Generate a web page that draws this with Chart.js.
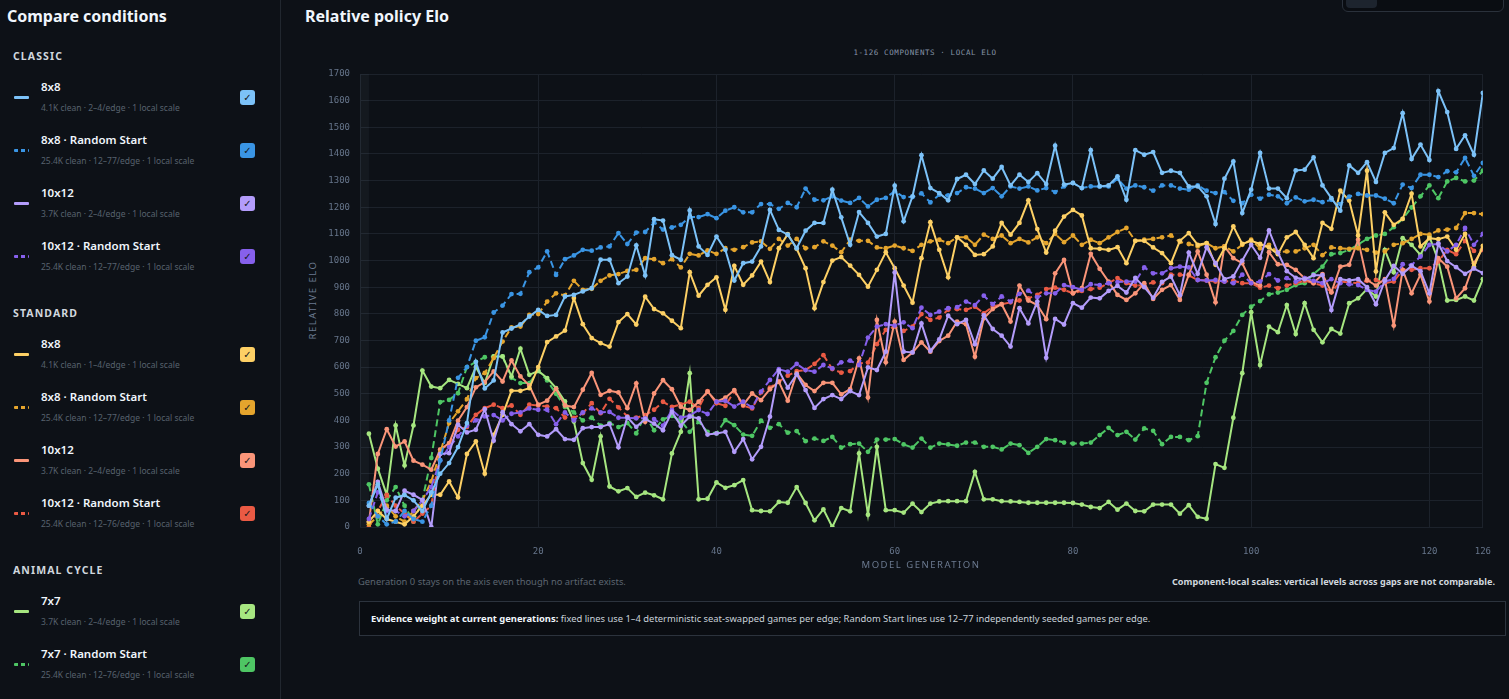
<!DOCTYPE html>
<html>
<head>
<meta charset="utf-8">
<title>Relative policy Elo</title>
<script src="https://cdn.jsdelivr.net/npm/chart.js@4.4.1/dist/chart.umd.min.js"></script>
<style>
  html, body { margin: 0; padding: 0; }
  body { width: 1509px; height: 699px; overflow: hidden; position: relative; background: #0d1117; color: #e6edf3; font-family: "Noto Sans", sans-serif; }
  .abs { position: absolute; white-space: nowrap; }
  #side { position: absolute; left: 0; top: 0; width: 280px; height: 699px; border-right: 1px solid #21272f; }
  .h2 { font-size: 16px; font-weight: 700; color: #f0f6fc; line-height: 20px; }
  .grp { font-size: 10.5px; font-weight: 700; letter-spacing: 1.1px; color: #d0d7de; line-height: 14px; }
  .name { font-size: 11.5px; font-weight: 600; color: #f0f6fc; line-height: 14px; }
  .note { font-size: 8.5px; color: #58626e; line-height: 12px; }
  .swatch { width: 15px; height: 3px; border-radius: 1px; }
  .check { width: 15px; height: 15px; border-radius: 3px; font: 10px "DejaVu Sans"; color: #15181d; text-align: center; line-height: 15px; }
  #wrap { position: absolute; left: 300px; top: 40px; width: 1210px; height: 529px; }
  .axis { font-size: 9.5px; letter-spacing: 1.5px; color: #6b7a90; line-height: 12px; }
  .mono { font-family: "DejaVu Sans Mono", monospace; font-size: 7.5px; letter-spacing: 0.6px; color: #8593a6; line-height: 10px; }
  .small { font-size: 9.4px; line-height: 12px; }
  #evidence { position: absolute; left: 359px; top: 601px; width: 1147px; height: 35px; border: 1px solid #2c333d; background: #0a0d12; box-sizing: border-box; }
  #toggle { position: absolute; left: 1342px; top: -6px; width: 160px; height: 16px; border: 1px solid #2a313b; border-radius: 6px; background: #0a0d12; }
  #toggle span { position: absolute; left: 3px; top: 2px; width: 31px; height: 11px; border-radius: 4px; background: #1d242e; }
</style>
</head>
<body>
<div id="side"></div>
<div class="abs h2" style="left:305px; top:6px;">Relative policy Elo</div>
<div id="toggle"><span></span></div>
<div class="abs mono" style="left:925px; top:48px; transform:translateX(-50%);">1-126 COMPONENTS · LOCAL ELO</div>
<div class="abs axis" style="left:313px; top:300px; transform:translate(-50%,-50%) rotate(-90deg);">RELATIVE ELO</div>
<div id="wrap"><canvas id="eloChart"></canvas></div>
<div class="abs axis" style="left:921px; top:559px; transform:translateX(-50%);">MODEL GENERATION</div>
<div class="abs small" style="left:358px; top:576px; color:#5c6570;">Generation 0 stays on the axis even though no artifact exists.</div>
<div class="abs small" style="right:14px; top:576px; color:#d0d7de; font-weight:700; font-size:9.1px;">Component-local scales: vertical levels across gaps are not comparable.</div>
<div id="evidence">
  <div class="abs small" style="left:11px; top:11px; color:#c9d1d9;"><b style="color:#f0f6fc;">Evidence weight at current generations:</b> fixed lines use 1–4 deterministic seat-swapped games per edge; Random Start lines use 12–77 independently seeded games per edge.</div>
</div>

<script>
// Conditions (sidebar + datasets)
const groupNames = ["CLASSIC", "STANDARD", "ANIMAL CYCLE"];
const conditionNames = ["8x8", "8x8 · Random Start", "10x12", "10x12 · Random Start",
  "8x8", "8x8 · Random Start", "10x12", "10x12 · Random Start",
  "7x7", "7x7 · Random Start"];
const conditionNotes = [
  "4.1K clean · 2–4/edge · 1 local scale", "25.4K clean · 12–77/edge · 1 local scale",
  "3.7K clean · 2–4/edge · 1 local scale", "25.4K clean · 12–77/edge · 1 local scale",
  "4.1K clean · 1–4/edge · 1 local scale", "25.4K clean · 12–77/edge · 1 local scale",
  "3.7K clean · 2–4/edge · 1 local scale", "25.4K clean · 12–76/edge · 1 local scale",
  "3.7K clean · 2–4/edge · 1 local scale", "25.4K clean · 12–76/edge · 1 local scale"];
const groupSizes = [4, 4, 2];

const xTicks = [0, 20, 40, 60, 80, 100, 120, 126];

// Relative Elo by generation 1..126
const classic8 = [80,160,30,110,120,100,60,130,200,240,
  300,390,620,520,550,730,745,760,790,815,
  792,796,865,871,884,896,1003,1003,915,940,
  1057,944,1155,1150,1020,1003,1188,1053,1021,1090,
  1040,925,990,996,1053,1190,1115,1097,1046,1112,
  1141,1141,1266,1162,1059,1182,1141,1090,1100,1281,
  1147,1241,1395,1272,1253,1226,1306,1322,1287,1338,
  1307,1351,1282,1322,1295,1328,1287,1431,1285,1291,
  1272,1414,1278,1282,1316,1228,1414,1397,1407,1329,
  1337,1329,1278,1278,1241,1137,1307,1372,1178,1266,
  1404,1270,1270,1234,1338,1341,1387,1282,1234,1187,
  1357,1329,1369,1295,1404,1422,1553,1381,1435,1377,
  1636,1557,1419,1470,1397,1629];
const classic8rs = [90,40,10,20,60,30,20,80,250,400,
  560,600,699,712,805,831,874,875,956,974,
  1034,946,1005,1019,1040,1037,1049,1053,1103,1062,
  1105,1107,1143,1116,1124,1134,1163,1163,1174,1159,
  1187,1200,1181,1181,1212,1212,1194,1216,1200,1270,
  1228,1226,1241,1225,1216,1235,1203,1228,1235,1260,
  1238,1238,1252,1218,1247,1244,1253,1275,1270,1253,
  1272,1241,1278,1270,1278,1263,1272,1257,1278,1291,
  1272,1278,1278,1278,1307,1270,1282,1275,1262,1282,
  1282,1270,1266,1282,1262,1253,1257,1224,1215,1247,
  1232,1247,1241,1215,1237,1222,1228,1219,1228,1212,
  1240,1250,1244,1244,1232,1215,1285,1272,1322,1322,
  1313,1335,1331,1385,1318,1366];
const classic10 = [80,169,65,60,136,121,102,0,274,277,
  384,355,365,442,324,431,386,359,386,346,
  340,367,330,327,371,375,375,386,299,412,
  376,405,388,363,432,380,414,408,347,351,
  357,282,330,254,301,414,587,523,573,514,
  447,480,495,480,510,495,599,589,658,955,
  658,655,764,661,704,793,761,777,686,795,
  743,718,677,821,764,846,635,781,760,840,
  823,861,858,886,905,880,935,900,860,920,
  940,870,1030,950,1050,990,930,940,1000,1059,
  1010,1113,1030,960,935,930,945,945,814,930,
  925,930,900,836,925,980,950,980,960,877,
  1064,998,975,950,970,953];
const classic10rs = [30,130,60,60,40,60,100,150,250,300,
  340,380,400,415,420,400,425,430,445,440,
  440,386,430,400,430,445,430,432,410,410,
  408,408,405,380,439,410,418,439,424,470,
  473,452,470,449,508,552,592,583,612,589,
  583,608,595,618,624,608,711,752,761,756,
  768,746,823,796,808,821,825,846,833,868,
  836,865,846,875,887,862,877,877,908,900,
  890,911,908,915,919,921,921,974,952,952,
  971,977,974,927,925,927,921,915,947,915,
  921,949,925,934,921,934,924,915,930,915,
  911,908,890,883,921,931,986,983,1015,1059,
  1062,1034,1059,1122,1059,1100];
const standard8 = [20,60,30,20,10,40,80,121,121,171,
  111,274,321,200,346,421,511,511,521,600,
  694,715,737,859,761,709,690,677,769,799,
  760,864,818,802,774,746,956,868,909,937,
  815,980,909,944,996,919,1046,1099,1044,971,
  821,919,1000,1013,981,946,902,965,1031,971,
  906,842,1009,1144,1040,937,1087,1059,1021,1024,
  1053,1141,1097,1141,1226,1118,1030,1112,1165,1190,
  1169,1046,1044,1040,1050,990,1074,1074,1049,1028,
  990,1074,1103,1059,1065,984,1046,1128,1062,1074,
  1062,1049,1024,1087,1107,1059,1009,1141,1119,1262,
  1225,1094,1337,959,1181,1134,1156,1251,1053,1084,
  1080,1090,1040,1100,977,1055];
const standard8rs = [10,40,80,40,20,60,100,171,280,390,
  434,480,559,578,634,696,749,752,796,799,
  846,877,869,924,890,894,924,944,949,961,
  965,1009,1005,990,1005,974,1025,1019,1038,1025,
  1046,1040,1050,1068,1072,1044,1081,1056,1081,1046,
  1050,1072,1056,1031,1078,1074,1074,1049,1046,1056,
  1046,1036,1059,1072,1078,1065,1087,1087,1059,1097,
  1081,1094,1065,1081,1068,1087,1065,1100,1069,1094,
  1059,1078,1065,1087,1107,1122,1074,1078,1081,1087,
  1094,1070,1062,1053,1065,1046,1053,1034,1059,1078,
  1046,1059,1031,1034,1034,1046,1059,1020,1049,1046,
  1044,1046,1040,1030,1034,1059,1065,1081,1100,1097,
  1113,1116,1122,1178,1178,1174];
const standard10 = [19,274,367,302,321,249,234,215,290,315,
  399,450,524,544,584,546,625,565,531,459,
  474,518,456,450,515,578,496,511,505,446,
  539,395,501,551,517,451,439,470,508,470,
  485,514,458,501,476,517,545,474,577,533,
  510,541,541,498,517,633,486,777,618,771,
  627,655,693,658,698,718,771,761,639,783,
  818,836,771,906,850,833,780,952,1002,877,
  896,1025,969,921,871,852,877,915,856,890,
  908,852,947,1034,947,843,1053,1009,990,921,
  906,1031,986,984,965,934,915,949,881,977,
  984,1078,927,906,930,756,965,877,947,846,
  1009,977,858,896,990,1046];
const standard10rs = [0,60,120,80,50,20,50,80,290,311,
  365,375,421,446,459,446,456,421,459,456,
  452,446,411,409,427,465,427,481,449,415,
  410,420,440,470,451,460,470,447,510,464,
  455,510,455,445,505,523,545,568,585,589,
  612,645,593,579,585,614,617,686,740,752,
  736,752,799,777,786,815,818,815,827,802,
  827,836,843,850,858,871,893,898,890,877,
  886,893,898,915,934,915,906,908,918,915,
  947,947,944,927,925,921,921,924,915,915,
  898,906,896,906,915,924,915,906,881,921,
  918,915,924,927,915,921,965,965,971,971,
  996,1040,1024,1074,1036,1040];
const animal7 = [350,219,121,381,231,381,587,527,521,552,
  537,521,600,540,640,640,565,669,571,586,
  559,521,471,396,240,177,340,152,134,146,
  113,129,119,104,276,357,577,104,106,167,
  147,157,176,63,60,59,94,91,150,90,
  25,66,0,71,59,276,46,301,63,63,
  54,88,56,88,96,97,97,97,207,104,
  104,97,96,94,91,91,91,91,91,90,
  84,75,71,94,65,88,60,59,84,84,
  84,50,82,38,31,236,222,410,577,806,
  608,752,731,833,724,840,740,693,743,726,
  840,858,893,865,1040,956,1084,1059,1021,1090,
  1000,850,852,865,850,930];
const animal7rs = [160,10,100,150,80,20,100,259,469,477,
  502,600,620,637,640,640,560,540,540,586,
  550,500,450,430,400,410,380,390,375,390,
  351,420,363,404,417,399,357,395,357,351,
  401,382,347,342,399,372,386,354,360,322,
  332,323,338,298,311,313,282,328,328,330,
  310,298,332,298,313,310,305,317,317,301,
  301,291,313,307,278,301,330,326,317,313,
  313,317,345,372,345,357,328,370,361,311,
  338,338,326,341,541,637,699,736,796,827,
  848,873,880,890,908,915,949,977,1024,1028,
  1040,1060,1081,1094,1100,1125,1156,1199,1241,1282,
  1234,1297,1310,1297,1300,1337];

const seriesValues = [classic8, classic8rs, classic10, classic10rs,
  standard8, standard8rs, standard10, standard10rs, animal7, animal7rs];
const seriesColors = ["#7cc2f8", "#3a95e4", "#b39cfb", "#8660ec",
  "#fdd065", "#e5a52d", "#fa9579", "#ea5a44", "#a6e680", "#4ec664"];

////////////
//Sidebar
///////////
function buildSidebar() {
  const side = document.getElementById("side");
  let html = `<div class="abs h2" style="left:7px; top:6px;">Compare conditions</div>`;
  let y = 56;
  let idx = 0;
  groupNames.forEach((group, g) => {
    html += `<div class="abs grp" style="left:13px; top:${y - 7}px;">${group}</div>`;
    let nameY = y + 31;
    for (let k = 0; k < groupSizes[g]; k++) {
      const color = seriesColors[idx];
      const dashed = idx % 2 === 1;
      const swatchStyle = dashed
        ? `background: repeating-linear-gradient(90deg, ${color} 0 4px, transparent 4px 7px);`
        : `background:${color};`;
      html += `<div class="abs swatch" style="left:14px; top:${nameY + 9}px; ${swatchStyle}"></div>`;
      html += `<div class="abs name" style="left:41px; top:${nameY - 7}px;">${conditionNames[idx]}</div>`;
      html += `<div class="abs note" style="left:41px; top:${nameY + 15}px;">${conditionNotes[idx]}</div>`;
      html += `<div class="abs check" style="left:240px; top:${nameY + 3}px; background:${color};">✓</div>`;
      nameY += 53;
      idx++;
    }
    y = nameY - 53 + 67;
  });
  side.innerHTML = html;
}
buildSidebar();

////////////
//Chart
///////////
// faint band for generation 0 (no artifact)
const genZeroBand = {
  id: "genZeroBand",
  beforeDatasetsDraw(chart) {
    const { ctx, chartArea, scales } = chart;
    const x0 = scales.x.getPixelForValue(0);
    const x1 = scales.x.getPixelForValue(1);
    ctx.save();
    ctx.fillStyle = "rgba(150,170,200,0.05)";
    ctx.fillRect(x0, chartArea.top, x1 - x0, chartArea.bottom - chartArea.top);
    ctx.restore();
  },
};

const datasets = seriesValues.map((values, i) => ({
  label: conditionNames[i],
  data: values.map((v, j) => ({ x: j + 1, y: v })),
  borderColor: seriesColors[i],
  backgroundColor: seriesColors[i],
  pointBackgroundColor: seriesColors[i],
  pointBorderWidth: 0,
  pointRadius: 2.4,
  borderWidth: 2,
  borderDash: i % 2 === 1 ? [7, 4] : [],
  tension: 0,
}));

const gridColor = "#1c222b";
const tickFont = { family: "DejaVu Sans Mono", size: 9 };

const eloChart = new Chart(document.getElementById("eloChart"), {
  type: "line",
  data: { datasets },
  options: {
    responsive: true,
    maintainAspectRatio: false,
    animation: false,
    layout: { padding: { top: 34, right: 12, left: 0, bottom: 0 } },
    plugins: { legend: { display: false }, tooltip: { enabled: false } },
    scales: {
      x: {
        type: "linear",
        min: 0,
        max: 126,
        afterBuildTicks: (scale) => {
          scale.ticks = xTicks.map((v) => ({ value: v }));
        },
        afterFit: (scale) => { scale.height = 42; },
        grid: { color: gridColor, drawTicks: false },
        border: { color: gridColor },
        ticks: { font: tickFont, color: "#66758b", padding: 19, maxRotation: 0, autoSkip: false, callback: (v) => String(v) },
      },
      y: {
        min: 0,
        max: 1700,
        afterFit: (scale) => { scale.width = 60; },
        grid: { color: gridColor, drawTicks: false },
        border: { color: gridColor },
        ticks: { stepSize: 100, font: tickFont, color: "#66758b", padding: 10, autoSkip: false, callback: (v) => String(v) },
      },
    },
  },
  plugins: [genZeroBand],
});
console.log(eloChart);
</script>
</body>
</html>
